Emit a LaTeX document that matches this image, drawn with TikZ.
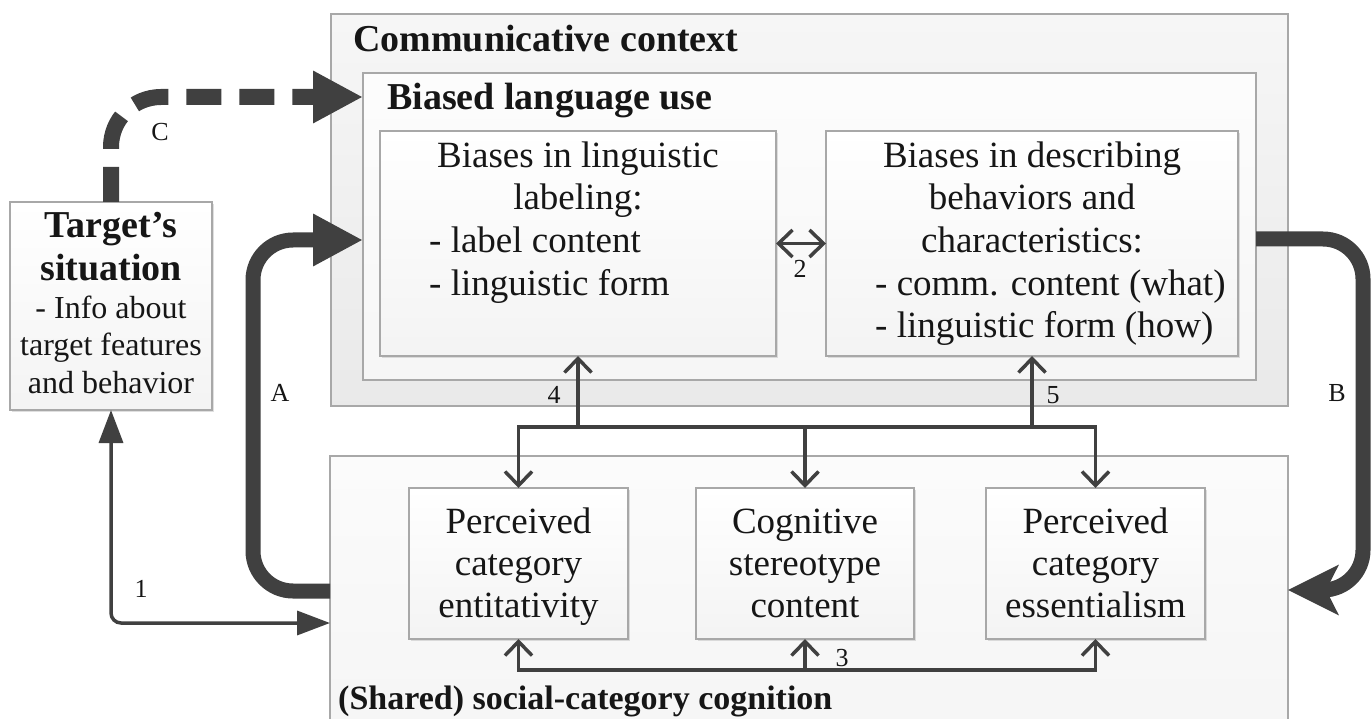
\documentclass[tikz,border=0pt]{standalone}
\usepackage{fontspec}
\setmainfont{Liberation Serif}
\usetikzlibrary{arrows.meta,shadows,fit}
\definecolor{arrc}{RGB}{64,64,64}
\definecolor{edgec}{RGB}{168,168,168}
\definecolor{txtc}{RGB}{22,22,22}
\begin{document}
\begin{tikzpicture}[x=1pt,y=-1pt,
  boxbase/.style={draw=edgec, line width=1.5pt, inner sep=0pt, outer sep=0pt},
  ctxbox/.style={boxbase, top color=gray!7, bottom color=gray!17},
  blubox/.style={boxbase, top color=gray!2, bottom color=gray!7},
  sccbox/.style={boxbase, top color=gray!3, bottom color=gray!8},
  subbox/.style={boxbase, top color=white, bottom color=gray!9,
    drop shadow={shadow xshift=2pt, shadow yshift=-2pt, opacity=0.35, fill=gray!70}},
  txt/.style={inner sep=0pt, text=txtc, anchor=base, font=\fontsize{37}{42}\selectfont},
  txtl/.style={txt, anchor=base west},
  ttl/.style={inner sep=0pt, text=txtc, anchor=base west, font=\fontsize{38}{42}\selectfont\bfseries},
  tgtb/.style={txt, font=\fontsize{38}{42}\selectfont\bfseries},
  tgtr/.style={txt, font=\fontsize{32}{36}\selectfont},
  lbl/.style={inner sep=0pt, text=txtc, font=\fontsize{26}{30}\selectfont},
  thinline/.style={draw=arrc, line width=3.5pt},
  barb/.style={-{Straight Barb[length=14pt,width=27pt]}},
  dbarb/.style={{Straight Barb[length=14pt,width=27pt]}-{Straight Barb[length=14pt,width=27pt]}},
  thickarr/.style={draw=arrc, line width=15pt, rounded corners=40pt,
    -{Triangle[length=50pt,width=49pt]}},
  thickarrb/.style={draw=arrc, line width=15pt, rounded corners=40pt,
    -{Stealth[length=50pt,width=49pt,inset=12pt]}},
  dasharr/.style={draw=arrc, line width=16pt, rounded corners=50pt,
    dash pattern=on 35pt off 18pt, -{Triangle[length=50pt,width=49pt]}},
  onearr/.style={draw=arrc, line width=3.5pt, rounded corners=10pt,
    {Triangle[length=33pt,width=24pt]}-{Triangle[length=33pt,width=24pt]}}
]
\useasboundingbox (0,0) rectangle (1372,719);
\fill[white] (0,0) rectangle (1372,719);

% corner helpers
\coordinate (ctxA) at (331,14);   \coordinate (ctxB) at (1288,406);
\coordinate (bluA) at (363,73);   \coordinate (bluB) at (1256,380);
\coordinate (labA) at (380,131);  \coordinate (labB) at (776,356);
\coordinate (desA) at (826,131);  \coordinate (desB) at (1238,356);
\coordinate (sccA) at (330,456);  \coordinate (sccB) at (1288,760);
\coordinate (entA) at (409,488);  \coordinate (entB) at (628,639);
\coordinate (steA) at (696,488);  \coordinate (steB) at (914,639);
\coordinate (essA) at (986,488);  \coordinate (essB) at (1205,639);
\coordinate (tgtA) at (10,202);   \coordinate (tgtB) at (212,410);

% boxes
\node[ctxbox, fit=(ctxA)(ctxB)] (ctx) {};
\node[blubox, fit=(bluA)(bluB)] (blu) {};
\node[subbox, fit=(labA)(labB)] (lab) {};
\node[subbox, fit=(desA)(desB)] (desc) {};
\node[sccbox, fit=(sccA)(sccB)] (scc) {};
\node[subbox, fit=(entA)(entB)] (ent) {};
\node[subbox, fit=(steA)(steB)] (ste) {};
\node[subbox, fit=(essA)(essB)] (ess) {};
\node[subbox, fit=(tgtA)(tgtB)] (tgt) {};

% titles
\node[ttl] (ctxT) at (353,52) {Communicative context};
\node[ttl] (bluT) at (387,110) {Biased language use};
\node[ttl, font=\fontsize{34}{40}\selectfont\bfseries] (sccT) at (338,709) {(Shared) social-category cognition};

% left sub box text
\node[txt] (lab1) at (578,168) {Biases in linguistic};
\node[txt] (lab2) at (578,210) {labeling:};
\node[txtl] (lab3) at (429,253) {- label content};
\node[txtl] (lab4) at (429,295) {- linguistic form};

% right sub box text
\node[txt] (des1) at (1032,168) {Biases in describing};
\node[txt] (des2) at (1032,210) {behaviors and};
\node[txt] (des3) at (1032,252) {characteristics:};
\node[txtl] (des4) at (875,295) {- comm. content (what)};
\node[txtl] (des5) at (875,337) {- linguistic form (how)};

% bottom boxes text
\node[txt] (ent1) at (518.5,533) {Perceived};
\node[txt] (ent2) at (518.5,575) {category};
\node[txt] (ent3) at (518.5,617) {entitativity};
\node[txt] (ste1) at (805,533) {Cognitive};
\node[txt] (ste2) at (805,575) {stereotype};
\node[txt] (ste3) at (805,617) {content};
\node[txt] (ess1) at (1095.5,533) {Perceived};
\node[txt] (ess2) at (1095.5,575) {category};
\node[txt] (ess3) at (1095.5,617) {essentialism};

% target box text
\node[tgtb] (tgt1) at (111,237) {Target’s};
\node[tgtb] (tgt2) at (111,280) {situation};
\node[tgtr] (tgt3) at (111,318) {- Info about};
\node[tgtr] (tgt4) at (111,355) {target features};
\node[tgtr] (tgt5) at (111,393) {and behavior};

% helper coordinates for connector routes
\coordinate (busT) at (0,427);
\coordinate (busB) at (0,670);
\coordinate (oneY) at (0,623);
\coordinate (aBot) at (253,591);
\coordinate (aTop) at (253,240);
\coordinate (bTop) at (1363,239);
\coordinate (bBot) at (1363,590);
\coordinate (cTop) at (111,97);

% thin connectors
\draw[thinline, dbarb] (lab.east) -- (desc.west);
\draw[thinline, dbarb] (ent.north) -- (ent.north |- busT) -- (ess.north |- busT) -- (ess.north);
\draw[thinline, barb] (ste.north |- busT) -- (ste.north);
\draw[thinline, barb] (lab.south |- busT) -- (lab.south);
\draw[thinline, barb] (desc.south |- busT) -- (desc.south);
\draw[thinline, dbarb] (ent.south) -- (ent.south |- busB) -- (ess.south |- busB) -- (ess.south);
\draw[thinline, barb] (ste.south |- busB) -- (ste.south);
\draw[onearr] (tgt.south) -- (tgt.south |- oneY) -- (scc.west |- oneY);

% thick connectors
\draw[thickarr] (scc.west |- aBot) -- (aBot) -- (aTop) -- (blu.west |- aTop);
\draw[thickarrb] (blu.east |- bTop) -- (bTop) -- (bBot) -- (scc.east |- bBot);
\draw[dasharr] (tgt.north) -- (cTop) -- (blu.west |- cTop);

% connector labels
\node[lbl] (lblC) at (160,132) {C};
\node[lbl] (lblA) at (280,393) {A};
\node[lbl] (lbl1) at (141,589) {1};
\node[lbl] (lblB) at (1337,393) {B};
\node[lbl] (lbl2) at (800,269) {2};
\node[lbl] (lbl4) at (554,395) {4};
\node[lbl] (lbl5) at (1053,395) {5};
\node[lbl] (lbl3) at (842,658) {3};
\end{tikzpicture}
\end{document}
